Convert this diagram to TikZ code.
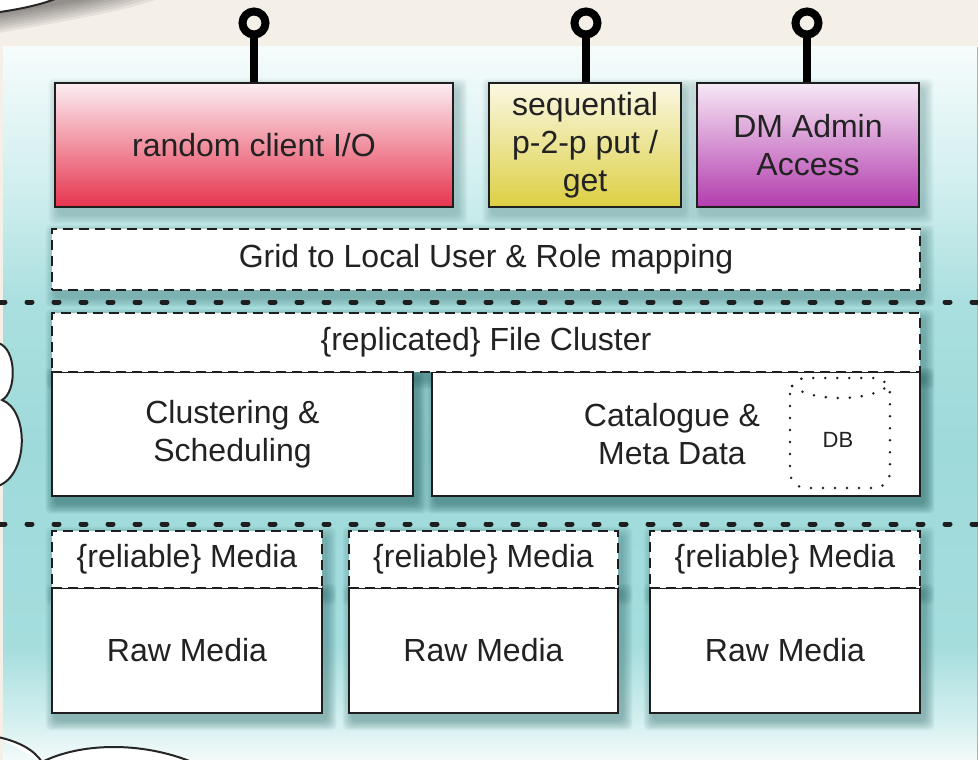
\documentclass[tikz,border=0pt]{standalone}
\usepackage{fontspec}
\setmainfont{Liberation Sans}
\usetikzlibrary{calc}

\definecolor{beige}{HTML}{F4EFE7}
\definecolor{textc}{HTML}{222222}
\definecolor{linec}{HTML}{1E1E1E}
\definecolor{shadowc}{HTML}{245F5F}
\definecolor{redtop}{HTML}{FCEEF2}
\definecolor{redbot}{HTML}{E6344E}
\definecolor{yeltop}{HTML}{FBF8E4}
\definecolor{yelbot}{HTML}{DCCF42}
\definecolor{purtop}{HTML}{F7E8F5}
\definecolor{purbot}{HTML}{B23CAE}
% panel gradient stops, bottom to top
\definecolor{pb0}{HTML}{F3FAFA}
\definecolor{pb1}{HTML}{D3EFEF}
\definecolor{pb2}{HTML}{A5DDDD}
\definecolor{pb3}{HTML}{9FDADA}
\definecolor{pb4}{HTML}{AADFDF}
\definecolor{pb5}{HTML}{D0EEEE}
\definecolor{pb6}{HTML}{F6FCFC}
\pgfdeclareverticalshading{panelgrad}{100bp}{color(0bp)=(pb0); color(25bp)=(pb0); color(27.8bp)=(pb1); color(33bp)=(pb2); color(47bp)=(pb3); color(57bp)=(pb4); color(65bp)=(pb5); color(75bp)=(pb6); color(100bp)=(pb6)}

\newcommand{\boxfont}{\fontsize{32}{38}\selectfont}
\newcommand{\dbfont}{\fontsize{22}{26}\selectfont}

\pgfdeclarelayer{back}
\pgfdeclarelayer{shadelayer}
\pgfsetlayers{back,shadelayer,main}

% soft shadow under a named box: stacked translucent rectangles
\newcommand{\softshadow}[2]{%
  \foreach \k in {0,...,7}{%
    \pgfmathsetmacro{\s}{\k*1.3}%
    \fill[shadowc, opacity=#2, rounded corners=5pt]
      ($(#1.north west)+(4-\s,6-\s)$) rectangle ($(#1.south east)+(4+\s,7+\s)$);
  }}

\begin{document}
\begin{tikzpicture}[x=1pt,y=-1pt,
  plainbox/.style={draw=linec, line width=2.6pt, fill=white, inner sep=0pt,
    align=center, font=\boxfont, text=textc},
  topbox/.style={plainbox},
  dashbox/.style={plainbox, dash pattern=on 10pt off 6pt},
  sepline/.style={draw=linec, line width=5pt, line cap=round, dash pattern=on 5pt off 22pt},
  dbline/.style={draw=linec, line width=2.8pt, line cap=round, dash pattern=on 0pt off 12pt},
  pinhead/.style={circle, draw=black, line width=8pt, minimum size=23pt, inner sep=0pt},
  pinstem/.style={draw=black, line width=8pt},
  cloudline/.style={draw=black!85, line width=2pt}]
\useasboundingbox (0,0) rectangle (978,760);

\begin{pgfonlayer}{back}
  \fill[beige] (0,0) rectangle (978,760);
  \shade[shading=panelgrad] (3,47) rectangle (977,760);
  \draw[black!30, line width=1pt] (977,47) -- (977,760);
  % cloud edge, top left, with its shadow
  \foreach \k in {1,...,8}
    \fill[black, opacity=0.06] (0,0) -- (0,{12+2.6*\k}) .. controls ({25+3*\k},{8+2*\k}) and ({60+8*\k},{2+1.2*\k}) .. ({75+10*\k},0) -- cycle;
  \fill[white] (0,-1) -- (0,12) .. controls (20,9) and (40,5) .. (55,-1) -- cycle;
  \draw[cloudline] (0,12) .. controls (20,9) and (40,5) .. (55,-1);
  % cloud edge, left
  \filldraw[fill=white, cloudline] (-2,343) .. controls (17,348) and (17,392) .. (2,400)
    .. controls (29,410) and (29,475) .. (-2,486);
  % cloud edge, bottom left
  \filldraw[fill=white, cloudline] (-2,737) .. controls (20,742) and (34,750) .. (42,762);
  \filldraw[fill=white, cloudline] (42,762) .. controls (80,743) and (140,741) .. (192,762);
\end{pgfonlayer}

% access points
\node[topbox, top color=redtop, bottom color=redbot, minimum width=398pt, minimum height=124pt]
  (client) at (254,145) {random client I/O};
\node[topbox, top color=yeltop, bottom color=yelbot, minimum width=192pt, minimum height=124pt]
  (p2p) at (585,145) {sequential\\p-2-p put /\\get};
\node[topbox, top color=purtop, bottom color=purbot, minimum width=222pt, minimum height=124pt]
  (admin) at (808,145) {DM Admin\\Access};

\node[pinhead] (pinA) at (254,23) {};
\node[pinhead] (pinB) at (586,23) {};
\node[pinhead] (pinC) at (807,23) {};
\draw[pinstem] (pinA.south) -- (pinA.south |- client.north);
\draw[pinstem] (pinB.south) -- (pinB.south |- p2p.north);
\draw[pinstem] (pinC.south) -- (pinC.south |- admin.north);

\node[dashbox, minimum width=868pt, minimum height=61pt] (grid) at (486,259.5)
  {Grid to Local User \& Role mapping};

% layer separators
\coordinate (sepAl) at (0,302);   \coordinate (sepAr) at (978,302);
\coordinate (sepBl) at (0,524);   \coordinate (sepBr) at (978,524);
\draw[sepline] (sepAl) -- (sepAr);
\draw[sepline] (sepBl) -- (sepBr);

% file cluster layer
\node[plainbox, minimum width=361pt, minimum height=124pt] (sched) at (232.5,434)
  {Clustering \&\\Scheduling};
\node[plainbox, minimum width=488pt, minimum height=124pt] (cat) at (676,434)
  {\hspace*{-8pt}Catalogue \&\\\hspace*{-8pt}Meta Data};
\node[dashbox, minimum width=868pt, minimum height=59pt] (cluster) at (486,342.5)
  {\{replicated\} File Cluster};

% database inside the catalogue
\node[font=\dbfont, text=textc, inner sep=0pt] (db) at (838,440) {DB};
\draw[dbline, rounded corners=16pt] ($(db)+(-48,-62)$) rectangle ($(db)+(52,48)$);
\draw[dbline] ($(db)+(-46,-54)$) .. controls ($(db)+(-25,-38)$) and ($(db)+(30,-38)$) .. ($(db)+(50,-54)$);

% media layer
\node[plainbox, minimum width=270pt, minimum height=125pt] (rawA) at (187,650.5) {Raw Media};
\node[plainbox, minimum width=269pt, minimum height=125pt] (rawB) at (483.5,650.5) {Raw Media};
\node[plainbox, minimum width=270pt, minimum height=125pt] (rawC) at (785,650.5) {Raw Media};
\node[dashbox, minimum width=270pt, minimum height=57pt] (relA) at (187,559.5) {\{reliable\} Media};
\node[dashbox, minimum width=269pt, minimum height=57pt] (relB) at (483.5,559.5) {\{reliable\} Media};
\node[dashbox, minimum width=270pt, minimum height=57pt] (relC) at (785,559.5) {\{reliable\} Media};

\begin{pgfonlayer}{shadelayer}
  \softshadow{client}{0.04}
  \softshadow{p2p}{0.04}
  \softshadow{admin}{0.04}
  \softshadow{grid}{0.05}
  \softshadow{cluster}{0.06}
  \softshadow{sched}{0.09}
  \softshadow{cat}{0.09}
  \softshadow{rawA}{0.06}
  \softshadow{rawB}{0.06}
  \softshadow{rawC}{0.06}
  \softshadow{relA}{0.05}
  \softshadow{relB}{0.05}
  \softshadow{relC}{0.05}
\end{pgfonlayer}
\end{tikzpicture}
\end{document}
